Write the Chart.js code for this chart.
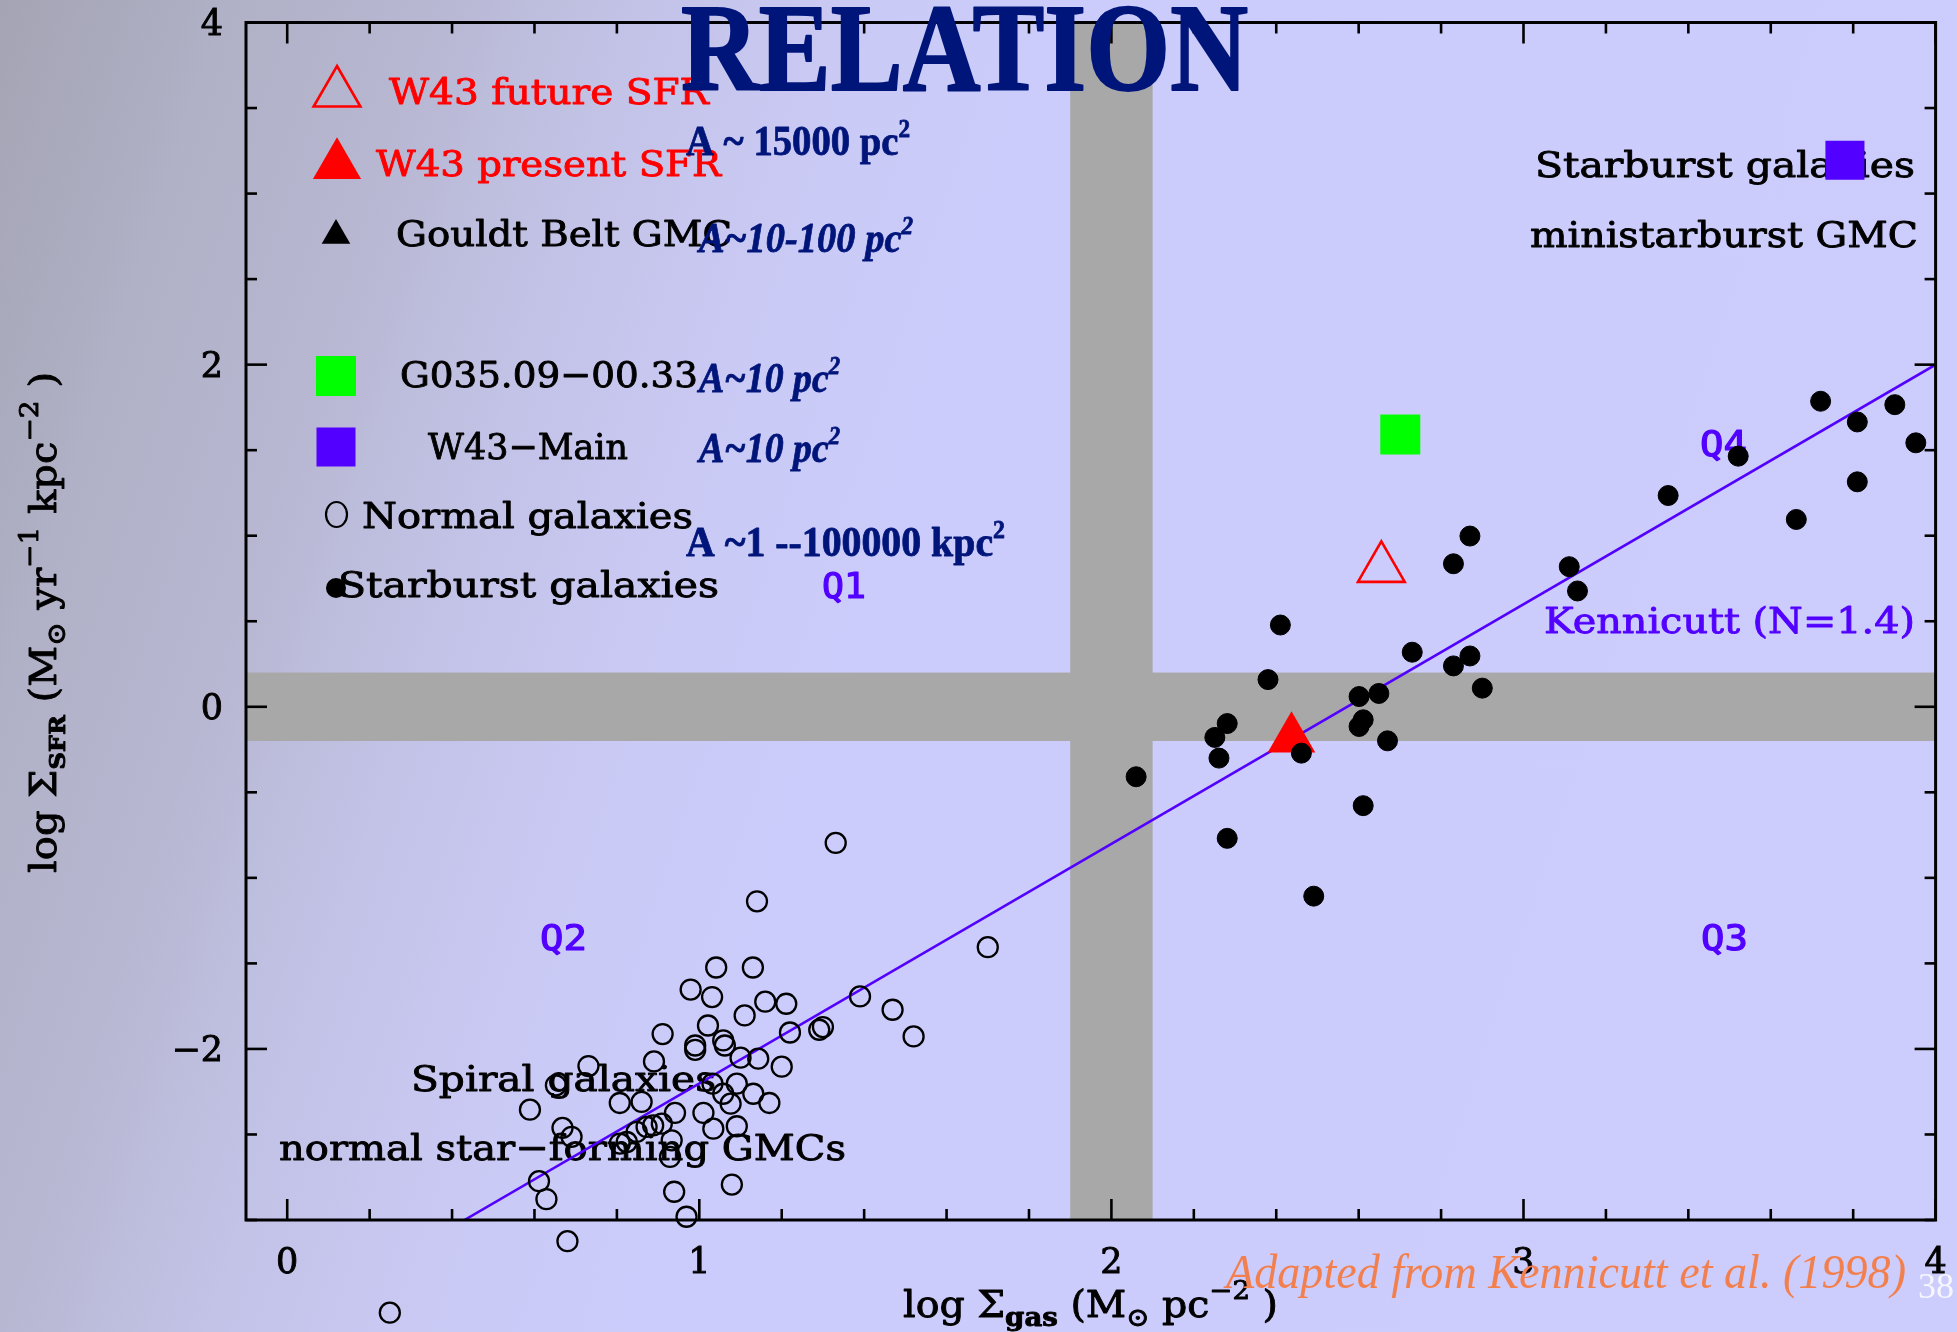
<!DOCTYPE html>
<html>
<head>
<meta charset="utf-8">
<title>Star formation relation</title>
<script src="https://cdn.jsdelivr.net/npm/chart.js@4.4.1/dist/chart.umd.min.js"></script>
<style>
  html, body {
    margin: 0; padding: 0; width: 1957px; height: 1332px; overflow: hidden;
    background: linear-gradient(108deg, #a4a4b4 0%, #b0b0c6 9.5%, #b7b7d2 18%, #c3c3e8 27%, #cacaf6 37%, #ccccfc 45%, #cdcdfd 100%);
  }
  canvas { display: block; }
</style>
</head>
<body>
<canvas id="ks" width="1957" height="1332"></canvas>
<script>
// ---- data: log Sigma_gas (x) and log Sigma_SFR (y) ----
const normalGasX = [1.331, 1.140, 1.700, 1.041, 1.130, 0.979, 1.031, 1.160, 1.211, 1.390, 1.469, 1.520,
  1.110, 1.021, 0.911, 1.220, 1.291, 1.300, 0.990, 0.990, 1.058, 1.062, 1.100, 1.143, 1.200, 0.890,
  0.731, 0.652, 1.091, 1.032, 0.589, 0.668, 0.690, 0.611, 0.629, 0.680, 0.249, 0.807, 0.860, 0.941,
  1.010, 1.034, 1.091, 1.076, 1.058, 1.131, 1.170, 0.909, 0.888, 0.872, 0.848, 0.824, 0.807, 0.933,
  0.929, 0.939, 0.969, 1.079];
const normalSfrY = [-0.796, -1.137, -1.405, -1.524, -1.524, -1.653, -1.697, -1.724, -1.736, -1.693, -1.771, -1.927,
  -1.804, -1.863, -1.913, -1.904, -1.888, -1.872, -1.980, -2.005, -1.950, -1.980, -2.051, -2.057, -2.104, -2.073,
  -2.100, -2.213, -2.203, -2.203, -2.355, -2.462, -2.514, -2.773, -2.878, -3.124, -3.542, -2.316, -2.310, -2.374,
  -2.374, -2.466, -2.452, -2.320, -2.262, -2.262, -2.316, -2.437, -2.447, -2.456, -2.485, -2.544, -2.553, -2.534,
  -2.631, -2.835, -2.981, -2.793];

const starburstGasX = [2.870, 2.830, 3.111, 3.131, 2.410, 2.730, 2.870, 2.830, 2.900, 2.380, 2.649, 2.601,
  2.611, 2.601, 2.670, 2.281, 2.251, 2.261, 2.461, 2.060, 2.611, 2.281, 2.491,
  3.721, 3.810, 3.901, 3.952, 3.521, 3.810, 3.662, 3.351];
const starburstSfrY = [0.998, 0.836, 0.819, 0.677, 0.478, 0.319, 0.297, 0.239, 0.109, 0.159, 0.078, 0.060,
  -0.076, -0.115, -0.199, -0.098, -0.179, -0.300, -0.271, -0.409, -0.578, -0.769, -1.107,
  1.786, 1.665, 1.766, 1.543, 1.465, 1.315, 1.095, 1.235];

const w43PresentX = [2.437], w43PresentY = [-0.187];
const w43FutureX = [2.655],  w43FutureY = [0.809];
const g035X = [2.701],       g035Y = [1.591];
const w43MainX = [3.780],    w43MainY = [3.195];

const kennicuttX = [0.43, 4.0];
const kennicuttY = [-3.0, 2.0];

const gasBand = [1.9, 2.1];
const sfrBand = [-0.2, 0.2];

const xTickLabels = [0, 1, 2, 3, 4];
const yTickLabels = [-2, 0, 2, 4];

// ---- styling ----
const RED = '#ff0000', PURPLE = '#5200ff', NAVY = '#00157a', GREEN = '#00ff00';
const SERIF = '"DejaVu Serif", serif';
const LSERIF = '"Liberation Serif", serif';
const MONO = '"DejaVu Sans Mono", monospace';

const pts = (xs, ys) => xs.map((x, i) => ({ x, y: ys[i] }));

// text drawn under the markers
const panelTexts = [
  { runs: [{ t: 'W43 future SFR' }], x: 389, y: 104, w: 320, color: RED, family: SERIF, size: 36, stroke: 0.9 },
  { runs: [{ t: 'W43 present SFR' }], x: 376, y: 176, w: 345, color: RED, family: SERIF, size: 36, stroke: 0.9 },
  { runs: [{ t: 'Gouldt Belt GMC' }], x: 396, y: 246, w: 336, color: '#000', family: SERIF, size: 36, stroke: 0.9 },
  { runs: [{ t: 'G035.09\u221200.33' }], x: 400, y: 387, w: 298, color: '#000', family: SERIF, size: 36, stroke: 0.9 },
  { runs: [{ t: 'W43\u2212Main' }], x: 428, y: 459, w: 200, color: '#000', family: SERIF, size: 36, stroke: 0.9 },
  { runs: [{ t: 'Normal galaxies' }], x: 362, y: 528, w: 331, color: '#000', family: SERIF, size: 36, stroke: 0.9 },
  { runs: [{ t: 'Starburst galaxies' }], x: 338, y: 597, w: 381, color: '#000', family: SERIF, size: 36, stroke: 0.9 },
  { runs: [{ t: 'Starburst galaxies' }], x: 1535, y: 177, w: 380, color: '#000', family: SERIF, size: 36, stroke: 0.9 },
  { runs: [{ t: 'ministarburst GMC' }], x: 1530, y: 247, w: 388, color: '#000', family: SERIF, size: 36, stroke: 0.9 },
  { runs: [{ t: 'Spiral galaxies' }], x: 411, y: 1091, w: 305, color: '#000', family: SERIF, size: 36, stroke: 0.9 },
  { runs: [{ t: 'normal star\u2212forming GMCs' }], x: 279, y: 1160, w: 567, color: '#000', family: SERIF, size: 36, stroke: 0.9 },
  { runs: [{ t: 'Kennicutt (N=1.4)' }], x: 1544, y: 633, w: 371, color: PURPLE, family: SERIF, size: 36, stroke: 0.9 },
  { runs: [{ t: 'Q1' }], x: 822, y: 598, w: 44, color: PURPLE, family: MONO, size: 36, stroke: 1.2 },
  { runs: [{ t: 'Q2' }], x: 540, y: 950, w: 47, color: PURPLE, family: MONO, size: 36, stroke: 1.2 },
  { runs: [{ t: 'Q3' }], x: 1701, y: 950, w: 47, color: PURPLE, family: MONO, size: 36, stroke: 1.2 },
  { runs: [{ t: 'Q4' }], x: 1700, y: 456, w: 47, color: PURPLE, family: MONO, size: 36, stroke: 1.2 },
  { runs: [{ t: 'A ~ 15000 pc' }, { t: '2', k: 0.6, dy: -0.42 }], x: 686, y: 155, w: 224, color: NAVY, family: LSERIF, size: 42, weight: 'bold', stroke: 0.8 },
  { runs: [{ t: 'A~10-100 pc' }, { t: '2', k: 0.6, dy: -0.42 }], x: 699, y: 252, w: 214, color: NAVY, family: LSERIF, size: 42, weight: 'bold', style: 'italic', stroke: 0.8 },
  { runs: [{ t: 'A~10 pc' }, { t: '2', k: 0.6, dy: -0.42 }], x: 699, y: 392, w: 141, color: NAVY, family: LSERIF, size: 42, weight: 'bold', style: 'italic', stroke: 0.8 },
  { runs: [{ t: 'A~10 pc' }, { t: '2', k: 0.6, dy: -0.42 }], x: 699, y: 462, w: 141, color: NAVY, family: LSERIF, size: 42, weight: 'bold', style: 'italic', stroke: 0.8 },
  { runs: [{ t: 'A ~1 --100000 kpc' }, { t: '2', k: 0.6, dy: -0.42 }], x: 686, y: 556, w: 319, color: NAVY, family: LSERIF, size: 42, weight: 'bold', stroke: 0.8 }
];

// text drawn over everything
const frameTexts = [
  { runs: [{ t: 'log \u03a3' }, { t: 'gas', k: 0.7, dy: 0.25, weight: 'bold' }, { t: ' (M' }, { t: '\u2299', k: 0.7, dy: 0.25 }, { t: ' pc' }, { t: '\u22122', k: 0.7, dy: -0.5 }, { t: ' )' }],
    x: 903, y: 1317, w: 375, color: '#000', family: SERIF, size: 37, stroke: 0.9 },
  { runs: [{ t: 'log \u03a3' }, { t: 'SFR', k: 0.6, dy: 0.25, weight: 'bold' }, { t: ' (M' }, { t: '\u2299', k: 0.7, dy: 0.25 }, { t: ' yr' }, { t: '\u22121', k: 0.7, dy: -0.5 }, { t: ' kpc' }, { t: '\u22122', k: 0.7, dy: -0.5 }, { t: ' )' }],
    x: 56, y: 873, w: 501, rotate: -Math.PI / 2, color: '#000', family: SERIF, size: 37, stroke: 0.9 },
  { runs: [{ t: 'Adapted from Kennicutt et al. (1998)' }], x: 1226, y: 1288, w: 680, color: '#f2804f', family: LSERIF, size: 48, style: 'italic' },
  { runs: [{ t: '38' }], x: 1918, y: 1298, w: 36, color: '#f6f6ff', family: LSERIF, size: 36 },
  { runs: [{ t: 'RELATION' }], x: 681, y: 90, w: 567, color: NAVY, family: LSERIF, size: 124, weight: 'bold', stroke: 2 }
];

// key symbols beside the key entries
const keySymbols = [
  { shape: 'triangle', x: 337, y: 93, r: 27, stroke: RED, lw: 2.6 },
  { shape: 'triangle', x: 337, y: 165, r: 27.8, fill: RED },
  { shape: 'triangle', x: 336, y: 235.5, r: 16.5, fill: '#000' },
  { shape: 'square', x: 336, y: 376, s: 40, fill: GREEN },
  { shape: 'square', x: 336, y: 447, s: 39, fill: PURPLE },
  { shape: 'ellipse', x: 336.5, y: 514.5, rx: 10.5, ry: 12.5, stroke: '#000', lw: 2.2 },
  { shape: 'circle', x: 336, y: 588, r: 10, fill: '#000' }
];

function drawLabel(ctx, L) {
  ctx.save();
  const base = L.size;
  let total = 0;
  const parts = L.runs.map(r => {
    const size = base * (r.k || 1);
    const font = `${r.style || L.style || 'normal'} normal ${r.weight || L.weight || 'normal'} ${size}px ${L.family}`;
    ctx.font = font;
    const w = ctx.measureText(r.t).width;
    total += w;
    return { t: r.t, font, w, dy: (r.dy || 0) * base };
  });
  ctx.translate(L.x, L.y);
  if (L.rotate) ctx.rotate(L.rotate);
  ctx.scale(L.w ? L.w / total : 1, 1);
  ctx.fillStyle = L.color;
  ctx.strokeStyle = L.color;
  ctx.lineJoin = 'round';
  ctx.textAlign = 'left';
  ctx.textBaseline = 'alphabetic';
  let cx = 0;
  parts.forEach(p => {
    ctx.font = p.font;
    ctx.fillText(p.t, cx, p.dy);
    if (L.stroke) { ctx.lineWidth = L.stroke; ctx.strokeText(p.t, cx, p.dy); }
    cx += p.w;
  });
  ctx.restore();
}

function drawSymbol(ctx, s) {
  ctx.save();
  ctx.beginPath();
  if (s.shape === 'triangle') {
    for (let k = 0; k < 3; k++) {
      const a = k * 2 * Math.PI / 3;
      const px = s.x + Math.sin(a) * s.r, py = s.y - Math.cos(a) * s.r;
      if (k) ctx.lineTo(px, py); else ctx.moveTo(px, py);
    }
    ctx.closePath();
  } else if (s.shape === 'square') {
    ctx.rect(s.x - s.s / 2, s.y - s.s / 2, s.s, s.s);
  } else if (s.shape === 'ellipse') {
    ctx.ellipse(s.x, s.y, s.rx, s.ry, 0, 0, 2 * Math.PI);
  } else {
    ctx.arc(s.x, s.y, s.r, 0, 2 * Math.PI);
  }
  if (s.fill) { ctx.fillStyle = s.fill; ctx.fill(); }
  if (s.stroke) { ctx.strokeStyle = s.stroke; ctx.lineWidth = s.lw; ctx.lineJoin = 'miter'; ctx.stroke(); }
  ctx.restore();
}

const panelPlugin = {
  id: 'panel',
  beforeDatasetsDraw(chart) {
    const { ctx, chartArea: a, scales: { x, y } } = chart;
    ctx.save();
    ctx.fillStyle = '#a8a8a8';
    const x1 = x.getPixelForValue(gasBand[0]), x2 = x.getPixelForValue(gasBand[1]);
    ctx.fillRect(x1, a.top, x2 - x1, a.bottom - a.top);
    const y1 = y.getPixelForValue(sfrBand[1]), y2 = y.getPixelForValue(sfrBand[0]);
    ctx.fillRect(a.left, y1, a.right - a.left, y2 - y1);
    ctx.restore();
    panelTexts.forEach(L => drawLabel(ctx, L));
  },
  afterDatasetsDraw(chart) {
    const { ctx, chartArea: a, scales: { x, y } } = chart;

    // normal galaxies that fall below the bottom axis
    const idx = chart.data.datasets.findIndex(d => d.label === 'Normal galaxies');
    const meta = chart.getDatasetMeta(idx);
    const whole = { left: 0, top: 0, right: chart.width, bottom: chart.height };
    meta.data.forEach(el => { if (el.y > a.bottom + 12) el.draw(ctx, whole); });

    ctx.save();
    ctx.strokeStyle = '#000';
    ctx.lineCap = 'butt';
    const seg = (x1, y1, x2, y2) => { ctx.beginPath(); ctx.moveTo(x1, y1); ctx.lineTo(x2, y2); ctx.stroke(); };

    // tick marks on all four sides, pointing inward
    ctx.lineWidth = 2.6;
    for (let i = 0; i <= 20; i++) {
      const v = i * 0.2;
      const px = x.getPixelForValue(v);
      const len = (i % 5 === 0) ? 21 : 11;
      seg(px, a.bottom, px, a.bottom - len);
      seg(px, a.top, px, a.top + len);
    }
    for (let i = -6; i <= 8; i++) {
      const v = i * 0.5;
      const py = y.getPixelForValue(v);
      const len = (i % 4 === 0) ? 21 : 11;
      seg(a.left, py, a.left + len, py);
      seg(a.right, py, a.right - len, py);
    }
    // frame
    ctx.lineWidth = 3;
    ctx.strokeRect(a.left, a.top, a.right - a.left, a.bottom - a.top);

    // tick labels
    ctx.fillStyle = '#000';
    ctx.strokeStyle = '#000';
    ctx.lineWidth = 0.9;
    ctx.font = `35px ${SERIF}`;
    ctx.textBaseline = 'alphabetic';
    ctx.textAlign = 'center';
    xTickLabels.forEach(v => {
      const px = x.getPixelForValue(v);
      ctx.fillText(String(v), px, a.bottom + 53);
      ctx.strokeText(String(v), px, a.bottom + 53);
    });
    ctx.textAlign = 'right';
    yTickLabels.forEach(v => {
      const s = String(v).replace('-', '\u2212');
      const py = y.getPixelForValue(v) + 12.5;
      ctx.fillText(s, a.left - 23, py);
      ctx.strokeText(s, a.left - 23, py);
    });
    ctx.restore();

    keySymbols.forEach(s => drawSymbol(ctx, s));
    frameTexts.forEach(L => drawLabel(ctx, L));
  }
};

new Chart(document.getElementById('ks'), {
  type: 'scatter',
  data: {
    datasets: [
      { label: 'Starburst galaxies', data: pts(starburstGasX, starburstSfrY), order: 1,
        pointStyle: 'circle', pointRadius: 10, pointHoverRadius: 10,
        backgroundColor: '#000', borderColor: '#000', pointBackgroundColor: '#000', pointBorderColor: '#000', pointBorderWidth: 1 },
      { label: 'W43 present SFR', data: pts(w43PresentX, w43PresentY), order: 2,
        pointStyle: 'triangle', pointRadius: 27.5, pointHoverRadius: 27.5,
        backgroundColor: RED, borderColor: RED, pointBackgroundColor: RED, pointBorderColor: RED, pointBorderWidth: 0 },
      { label: 'W43 future SFR', data: pts(w43FutureX, w43FutureY), order: 3,
        pointStyle: 'triangle', pointRadius: 27, pointHoverRadius: 27,
        backgroundColor: 'rgba(0,0,0,0)', borderColor: RED, pointBackgroundColor: 'rgba(0,0,0,0)', pointBorderColor: RED, pointBorderWidth: 2.6 },
      { label: 'G035.09-00.33', data: pts(g035X, g035Y), order: 4,
        pointStyle: 'rect', pointRadius: 28.3, pointHoverRadius: 28.3,
        backgroundColor: GREEN, borderColor: GREEN, pointBackgroundColor: GREEN, pointBorderColor: GREEN, pointBorderWidth: 0 },
      { label: 'W43-Main', data: pts(w43MainX, w43MainY), order: 5,
        pointStyle: 'rect', pointRadius: 27.6, pointHoverRadius: 27.6,
        backgroundColor: PURPLE, borderColor: PURPLE, pointBackgroundColor: PURPLE, pointBorderColor: PURPLE, pointBorderWidth: 0 },
      { label: 'Normal galaxies', data: pts(normalGasX, normalSfrY), order: 6, clip: false,
        pointStyle: 'circle', pointRadius: 10, pointHoverRadius: 10,
        backgroundColor: 'rgba(0,0,0,0)', borderColor: '#000', pointBackgroundColor: 'rgba(0,0,0,0)', pointBorderColor: '#000', pointBorderWidth: 2.3 },
      { label: 'Kennicutt (N=1.4)', data: pts(kennicuttX, kennicuttY), order: 7,
        showLine: true, fill: false, borderColor: PURPLE, borderWidth: 2.6, pointRadius: 0, pointHoverRadius: 0 }
    ]
  },
  options: {
    responsive: false,
    animation: false,
    events: [],
    layout: { autoPadding: false, padding: { left: 246, right: 21.4, top: 22.5, bottom: 112 } },
    scales: {
      x: { type: 'linear', min: -0.1, max: 4, display: false },
      y: { type: 'linear', min: -3, max: 4, display: false }
    },
    plugins: { legend: { display: false }, tooltip: { enabled: false } }
  },
  plugins: [panelPlugin]
});
</script>
</body>
</html>
